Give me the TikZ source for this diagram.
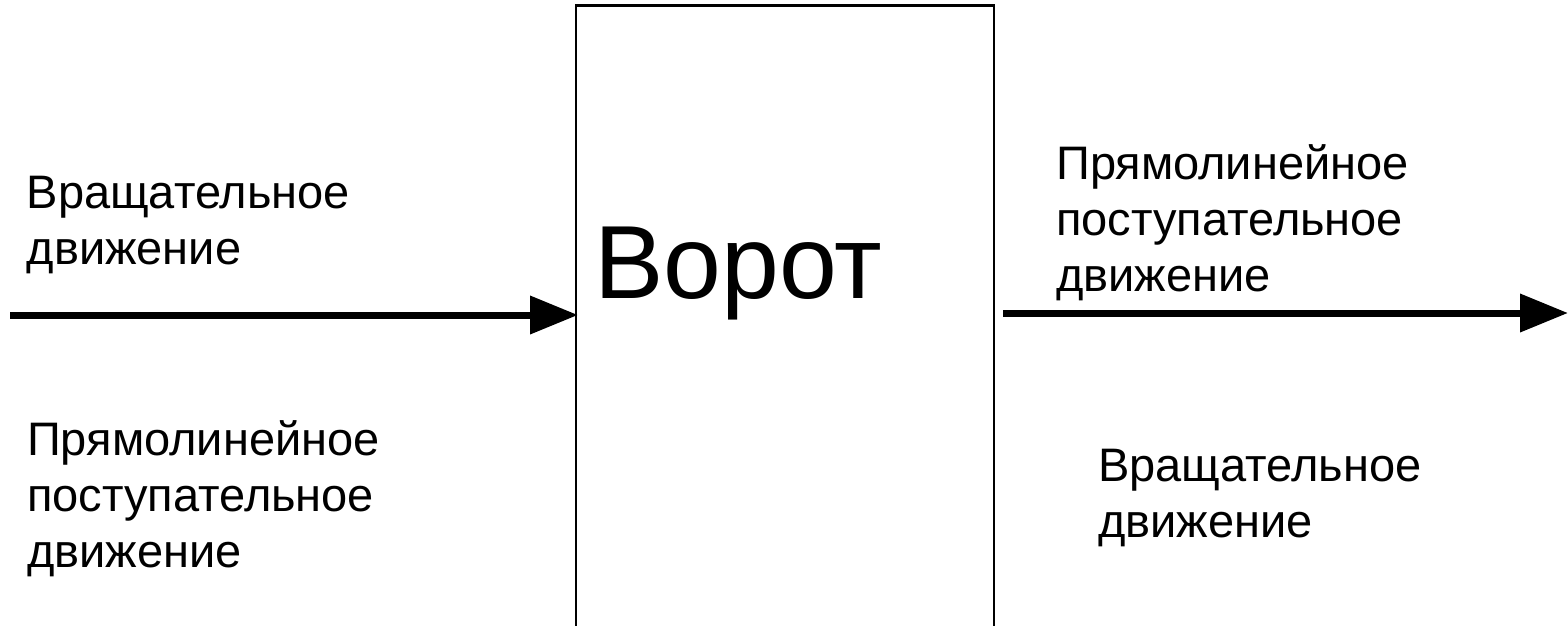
\documentclass[tikz,border=0pt]{standalone}
\usepackage{fontspec}
\setmainfont{Liberation Sans}
\usetikzlibrary{arrows.meta}
\begin{document}
\begin{tikzpicture}[x=1pt,y=-1pt,
  lbl/.style={anchor=base west,inner sep=0pt,align=left,font=\fontsize{47}{56}\selectfont},
  title/.style={anchor=base west,inner sep=0pt,font=\fontsize{104}{110}\selectfont},
  bigarrow/.style={line width=7pt,-{Triangle[length=48pt,width=37pt]}},
  boxline/.style={line width=2.2pt,line cap=rect}]
\useasboundingbox (0,0) rectangle (1568,625);
\coordinate (bl) at (576,627);
\coordinate (tl) at (576,5.5);
\coordinate (tr) at (994,5.5);
\coordinate (br) at (994,627);
\draw[boxline] (bl) -- (tl) -- (tr) -- (br);
\node[title] (vorot) at (594,298) {Ворот};
\coordinate (inL) at (10,315);
\coordinate (boxL) at (578,315);
\draw[bigarrow] (inL) -- (boxL);
\coordinate (boxR) at (1003,313);
\coordinate (outR) at (1568,313);
\draw[bigarrow] (boxR) -- (outR);
\node[lbl] (lt) at (26.5,264) {Вращательное\\движение};
\node[lbl] (lb) at (27,567) {Прямолинейное\\поступательное\\движение};
\node[lbl] (rt) at (1056,291) {Прямолинейное\\поступательное\\движение};
\node[lbl] (rb) at (1098,537) {Вращательное\\движение};
\end{tikzpicture}
\end{document}
